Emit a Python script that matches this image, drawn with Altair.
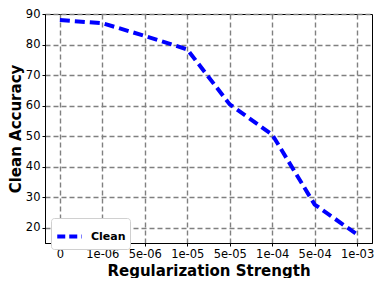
import altair as alt
import pandas as pd

strengths = ["0", "1e-06", "5e-06", "1e-05", "5e-05", "1e-04", "5e-04", "1e-03"]
clean_acc = [88.0, 87.0, 82.8, 78.4, 60.4, 50.5, 27.6, 17.8]
series = ["Clean"] * len(strengths)
y_ticks = [20, 30, 40, 50, 60, 70, 80, 90]

df = pd.DataFrame({"strength": strengths, "acc": clean_acc, "series": series})

font = "DejaVu Sans"

chart = alt.Chart(df).mark_line(strokeWidth=4, strokeDash=[10, 5]).encode(
    x=alt.X(
        "strength:N",
        sort=strengths,
        scale=alt.Scale(type="point", padding=0.35),
        axis=alt.Axis(
            title="Regularization Strength",
            labelAngle=0,
            titleY=32,
            titleBaseline="alphabetic",
        ),
    ),
    y=alt.Y(
        "acc:Q",
        scale=alt.Scale(domain=[15, 90], nice=False, zero=False),
        axis=alt.Axis(
            title="Clean Accuracy",
            values=y_ticks,
            titleAngle=-90,
            titleX=-30,
            titleY=114.5,
            titleAlign="center",
            titleBaseline="middle",
        ),
    ),
    color=alt.Color(
        "series:N",
        scale=alt.Scale(range=["#0000ff"]),
        legend=alt.Legend(
            title=None,
            orient="none",
            legendX=6,
            legendY=204,
            symbolType="stroke",
            symbolStrokeWidth=4,
            symbolDash=[8, 4],
            symbolSize=600,
            labelFont=font,
            labelFontWeight="bold",
            labelFontSize=11,
            labelColor="black",
            labelOffset=7,
            padding=4,
            fillColor="white",
            strokeColor="#d0d0d0",
            cornerRadius=3,
        ),
    ),
).properties(
    width=327,
    height=229,
    autosize=alt.AutoSizeParams(type="none"),
    padding={"left": 37, "top": 6, "right": 2, "bottom": 35},
).configure_view(
    stroke="black", strokeWidth=1
).configure_axis(
    grid=True,
    gridColor="#808080",
    gridDash=[5, 3],
    gridWidth=1.4,
    gridOpacity=1,
    domain=True,
    domainColor="black",
    tickColor="black",
    tickSize=3,
    labelPadding=2,
    labelFont=font,
    labelFontSize=11.5,
    labelColor="black",
    titleFont=font,
    titleFontSize=15,
    titleFontWeight="bold",
    titleColor="black",
)

chart.save("out.html", embed_options={"renderer": "svg", "actions": False})
